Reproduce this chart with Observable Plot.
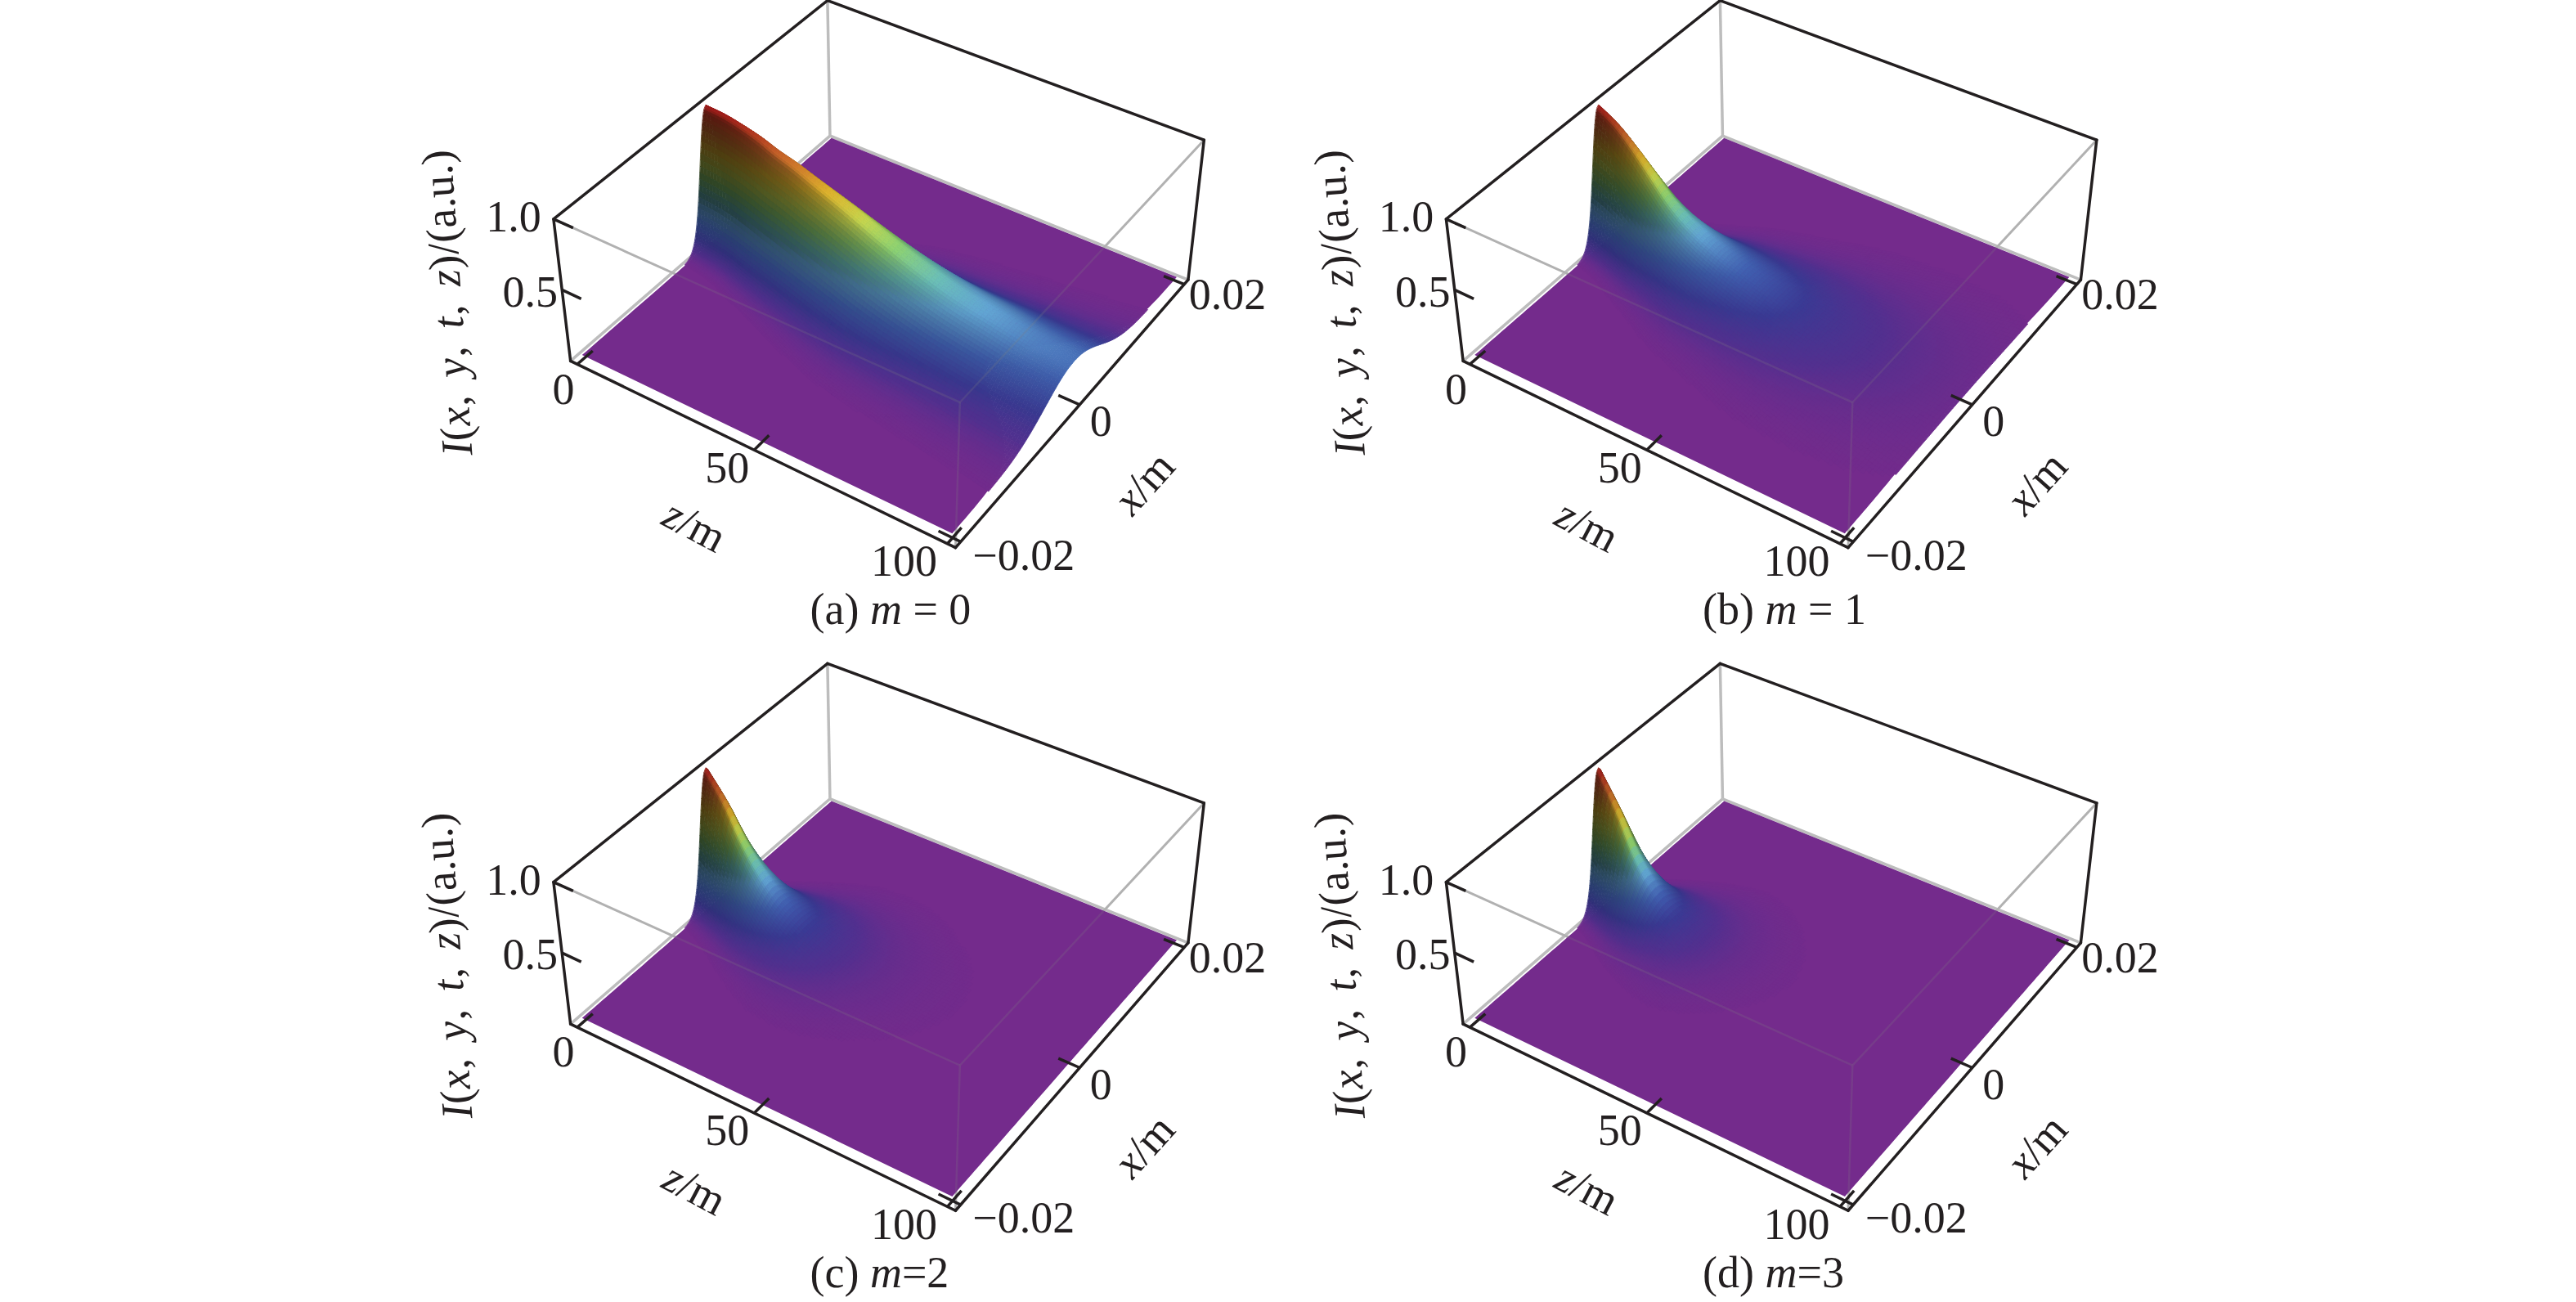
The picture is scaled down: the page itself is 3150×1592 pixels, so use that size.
<!DOCTYPE html>
<html><head><meta charset="utf-8">
<script src="https://cdn.jsdelivr.net/npm/d3@7"></script>
<script src="https://cdn.jsdelivr.net/npm/@observablehq/plot@0.6"></script>
<style>html,body{margin:0;padding:0;background:#fff}svg{display:block;max-width:none}</style>
</head><body><div id="chart"></div>
<script>
// ---- values ----
const zGrid = [0,5,10,15,20,25,30,40,50,60,70,80,90,100];
const peakM0 = [1,.99,.965,.93,.88,.84,.79,.69,.58,.48,.40,.35,.30,.27];
const peakM1 = [1,.92,.80,.66,.52,.42,.35,.25,.18,.12,.08,.05,.03,.015];
const peakM2 = [1,.82,.58,.40,.27,.19,.13,.06,.025,.01,.004,.002,.001,0];
const peakM3 = [1,.76,.47,.28,.16,.10,.06,.02,.006,.002,.001,0,0,0];
const widthM0 = [.0028,.003,.0033,.0038,.0043,.0048,.0053,.0063,.0072,.0078,.0083,.0088,.0093,.0098];
const widthM1 = [.0028,.0032,.0038,.0045,.0052,.006,.0068,.008,.0092,.0105,.0115,.0125,.0135,.0145];
const widthM2 = [.0028,.0034,.0042,.0052,.0062,.0072,.0082,.0095,.0105,.011,.012,.012,.012,.012];
const widthM3 = [.0028,.0035,.0045,.0055,.0065,.0075,.0085,.0095,.01,.01,.01,.01,.01,.01];
const profileU = [0,.1,.2,.3,.4,.5,.6,.7,.8,.9,1,1.1,1.2,1.3,1.4,1.5,1.6,1.7,1.8,1.9,2,2.2,2.5];
const profileV = [1,.98,.923,.835,.726,.607,.487,.375,.278,.198,.135,.089,.056,.034,.02,.011,.006,.003,.0015,.0007,.0003,0,0];
const colorStopsI = [0,.06,.14,.24,.36,.44,.54,.64,.74,.85,1];
const colorStopsC = ["#742B8C","#52308F","#3A3A94","#4060B0","#62A6D4","#6CC2B8","#90D674","#CCDC50","#EABC30","#E07830","#C81E20"];
const zTicks = [0,50,100];
const xTicks = [-0.02,0,0.02];
const iTicks = [0.5,1.0];
const panels = [
  {caption:"(a) _m_ = 0", peak:peakM0, width:widthM0, dx:0, dy:0},
  {caption:"(b) _m_ = 1", peak:peakM1, width:widthM1, dx:1091.5, dy:0},
  {caption:"(c) _m_=2", peak:peakM2, width:widthM2, dx:0, dy:810.7},
  {caption:"(d) _m_=3", peak:peakM3, width:widthM3, dx:1091.5, dy:810.7}
];
// ---- view of the plot box ----
const W = 3150, H = 1592;
const boxZ = [-2,102], boxX = [-0.0208,0.0208], boxI = [-0.03,1.0];
const boxView = [ // z side, x side, I side, where the corner lands
  [0,0,0,696,440],[1,0,0,1167,668],[1,1,0,1453,343],[0,1,0,1015.7,166],
  [0,0,1,677,268],[1,0,1,1175,493],[1,1,1,1470.6,169],[0,1,1,1010.6,0]
];
function solveCamera(view){
  const A=[],b=[];
  for(const [u,v,w,X0,Y0] of view){
    const X=X0/1000,Y=Y0/1000;
    A.push([u,v,w,1,0,0,0,0,-X*u,-X*v,-X*w]);b.push(X);
    A.push([0,0,0,0,u,v,w,1,-Y*u,-Y*v,-Y*w]);b.push(Y);
  }
  const n=11,M=Array.from({length:n},(_,i)=>Array.from({length:n+1},(_,j)=>{
    let s=0;for(let r=0;r<A.length;r++)s+=A[r][i]*(j<n?A[r][j]:b[r]);return s;}));
  for(let c=0;c<n;c++){
    let p=c;for(let r=c+1;r<n;r++)if(Math.abs(M[r][c])>Math.abs(M[p][c]))p=r;
    [M[c],M[p]]=[M[p],M[c]];
    for(let r=0;r<n;r++)if(r!==c){const f=M[r][c]/M[c][c];for(let k=c;k<=n;k++)M[r][k]-=f*M[c][k];}
  }
  return M.map((row,i)=>row[n]/row[i]);
}
const cam = solveCamera(boxView);
function project(z,x,I,p){
  const u=(z-boxZ[0])/(boxZ[1]-boxZ[0]),v=(x-boxX[0])/(boxX[1]-boxX[0]),w=(I-boxI[0])/(boxI[1]-boxI[0]);
  const d=cam[8]*u+cam[9]*v+cam[10]*w+1;
  return [1000*(cam[0]*u+cam[1]*v+cam[2]*w+cam[3])/d+p.dx, 1000*(cam[4]*u+cam[5]*v+cam[6]*w+cam[7])/d+p.dy];
}
// smooth reading between the values of a table
function hermite(xs,ys){
  const n=xs.length,m=ys.map((_,i)=>{
    if(i===0)return (ys[1]-ys[0])/(xs[1]-xs[0]);
    if(i===n-1)return (ys[n-1]-ys[n-2])/(xs[n-1]-xs[n-2]);
    const a=(ys[i]-ys[i-1])/(xs[i]-xs[i-1]),b=(ys[i+1]-ys[i])/(xs[i+1]-xs[i]);
    return a*b<=0?0:2*a*b/(a+b);
  });
  return t=>{
    if(t<=xs[0])return ys[0]; if(t>=xs[n-1])return ys[n-1];
    let i=d3.bisectRight(xs,t)-1;const h=xs[i+1]-xs[i],s=(t-xs[i])/h;
    const s2=s*s,s3=s2*s;
    return (2*s3-3*s2+1)*ys[i]+(s3-2*s2+s)*h*m[i]+(-2*s3+3*s2)*ys[i+1]+(s3-s2)*h*m[i+1];
  };
}
const shape = hermite(profileU,profileV);
const heat = d3.scaleLinear().domain(colorStopsI).range(colorStopsC).clamp(true);
function tint(I,slope){
  const lit=.2+.8/Math.sqrt(1+(slope/2.5)**2);
  const s=1-(1-lit)*Math.min(1,I/.4),c=d3.rgb(heat(I));
  return d3.rgb(c.r*s,c.g*s,c.b*s).formatHex();
}
// ---- rows for the marks ----
const floorRows=[],quadRows=[],backLinks=[],frontLinks=[],blackLinks=[],tickLinks=[],labelRows=[];
let quadId=0;
const zStep=1,uCount=130,uMax=2.3;
panels.forEach((p,pi)=>{
  const P=(z,x,I)=>project(z,x,I,p);
  const link=(a,b)=>{const A=P(...a),B=P(...b);return {x1:A[0],y1:A[1],x2:B[0],y2:B[1]};};
  const [z0,z1]=boxZ,[x0,x1]=boxX,[i0,i1]=boxI;
  backLinks.push(link([z0,x1,i0],[z0,x1,i1]),link([z0,x0,i0],[z0,x1,i0]),link([z0,x1,i0],[z1,x1,i0]));
  frontLinks.push(link([z0,x0,i1],[z1,x0,i1]),link([z1,x1,i1],[z1,x0,i1]),link([z1,x0,i1],[z1,x0,i0]));
  blackLinks.push(link([z0,x0,i0],[z0,x0,i1]),link([z0,x0,i1],[z0,x1,i1]),link([z0,x1,i1],[z1,x1,i1]),
    link([z1,x1,i1],[z1,x1,i0]),link([z1,x1,i0],[z1,x0,i0]),link([z1,x0,i0],[z0,x0,i0]));
  const peak=hermite(zGrid,p.peak),wid=hermite(zGrid,p.width);
  // floor: stops short of the raised edge at z = 100 so it stays hidden under it
  d3.range(-.02,.02001,.0005).forEach(x=>{
    const endI=p.peak[p.peak.length-1]*shape(Math.abs(x)/p.width[p.width.length-1]);
    const a=P(0,x,0),b=P(100-80*endI,x,0);
    floorRows.push({id:pi,x1:a[0],y1:a[1],x2:b[0],y2:b[1]});
  });
  // surface: far side first
  const uOf=j=>uMax-2*uMax*j/uCount;
  const val=(uu,pk,w)=>{const x=Math.max(-.02,Math.min(.02,uu*w));return [x,pk*shape(Math.abs(x)/w)];};
  for(let j=0;j<uCount;j++){
    const ua=uOf(j),ub=uOf(j+1);
    for(let z=0;z<100;z+=zStep){
      const zb=z+zStep,pa=peak(z),pb=peak(zb),wa=wid(z),wb=wid(zb);
      const q1=val(ua,pa,wa),q2=val(ub,pa,wa),q3=val(ua,pb,wb),q4=val(ub,pb,wb);
      const mid=(q1[1]+q2[1]+q3[1]+q4[1])/4;
      if(mid<.004||q1[0]===q2[0])continue;
      const slope=Math.abs((q1[1]-q2[1])/(q1[0]-q2[0]))*.04;
      const col=tint(mid,slope);
      const A=P(z,q1[0],q1[1]),B=P(z,q2[0],q2[1]),C=P(zb,q3[0],q3[1]),D=P(zb,q4[0],q4[1]);
      quadId++;
      quadRows.push({id:quadId,col,x1:A[0],y1:A[1],x2:B[0],y2:B[1]},{id:quadId,col,x1:C[0],y1:C[1],x2:D[0],y2:D[1]});
    }
  }
  // ticks and their labels
  const text=(base,ox,oy,label,rot=0,anchor="middle")=>{const B=P(...base);labelRows.push({px:B[0]+ox,py:B[1]+oy,label,rot,anchor});};
  const zOff={0:[-17,31],50:[-33,22],100:[-53,22]};
  zTicks.forEach(z=>{tickLinks.push(link([z,x0,i0],[z,x0+.0022,i0]));text([z,x0,i0],...zOff[z],String(z));});
  const xOff={"-0.02":[77,17],"0":[26,21],"0.02":[53,13]};
  xTicks.forEach(x=>{tickLinks.push(link([z1,x,i0],[z1-5.5,x,i0]));text([z1,x,i0],...xOff[String(x)],x<0?"\u2212"+Math.abs(x):String(x));});
  const iOff={"0.5":[-39,3],"1.0":[-49,-2]};
  iTicks.forEach(i=>{tickLinks.push(link([z0,x0,i],[z0+5.5,x0,i]));text([z0,x0,i],...iOff[i.toFixed(1)],i.toFixed(1));});
  text([50,x0,i0],-73,93,"_z_/m",28);
  text([z1,0,i0],79,96,"_x_/m",-48);
  text([z0,x0,.5],-140,16,"_I_(_x_,\u2004\u200a_y_,\u2004\u200a_t_,\u2004\u200a_z_)/(a.u.)",-94);
  text([z1,x0,i0],-178,76,p.caption,0,"start");
});
const font="Liberation Serif";
const lineStyle={x1:"x1",y1:"y1",x2:"x2",y2:"y2"};
const svg=Plot.plot({
  width:W,height:H,margin:0,
  x:{type:"identity",axis:null},y:{type:"identity",axis:null},
  style:{background:"#fff",fontFamily:font},
  marks:[
    Plot.link(backLinks,{...lineStyle,stroke:"#bdbdbd",strokeWidth:3.5}),
    Plot.link(frontLinks,{...lineStyle,stroke:"#bdbdbd",strokeWidth:3}),
    Plot.area(floorRows,{...lineStyle,z:"id",fill:colorStopsC[0]}),
    Plot.area(quadRows,{...lineStyle,z:"id",fill:"col",stroke:"col",strokeWidth:.8}),
    Plot.link(frontLinks,{...lineStyle,stroke:"#808080",strokeOpacity:.2,strokeWidth:2.5}),
    Plot.link(blackLinks,{...lineStyle,stroke:"#231f20",strokeWidth:3.5,strokeLinecap:"round"}),
    Plot.link(tickLinks,{...lineStyle,stroke:"#231f20",strokeWidth:3.5}),
    Plot.text(labelRows,{x:"px",y:"py",text:"label",rotate:"rot",textAnchor:"start",fontSize:54,fill:"#231f20",fontFamily:font,
      lineAnchor:"middle"})
  ]
});
// anchors and italic runs inside the labels
const anchors=new Map(labelRows.map(r=>[r.label,r.anchor]));
svg.querySelectorAll("text").forEach(t=>{
  const raw=t.textContent; if(!anchors.has(raw))return;
  t.setAttribute("text-anchor",anchors.get(raw));
  t.textContent="";
  raw.split("_").forEach((s,i)=>{ if(!s)return;
    const ts=document.createElementNS("http://www.w3.org/2000/svg","tspan");
    ts.textContent=s; if(i%2)ts.setAttribute("font-style","italic"); t.appendChild(ts);});
});
document.getElementById("chart").appendChild(svg);
</script></body></html>
